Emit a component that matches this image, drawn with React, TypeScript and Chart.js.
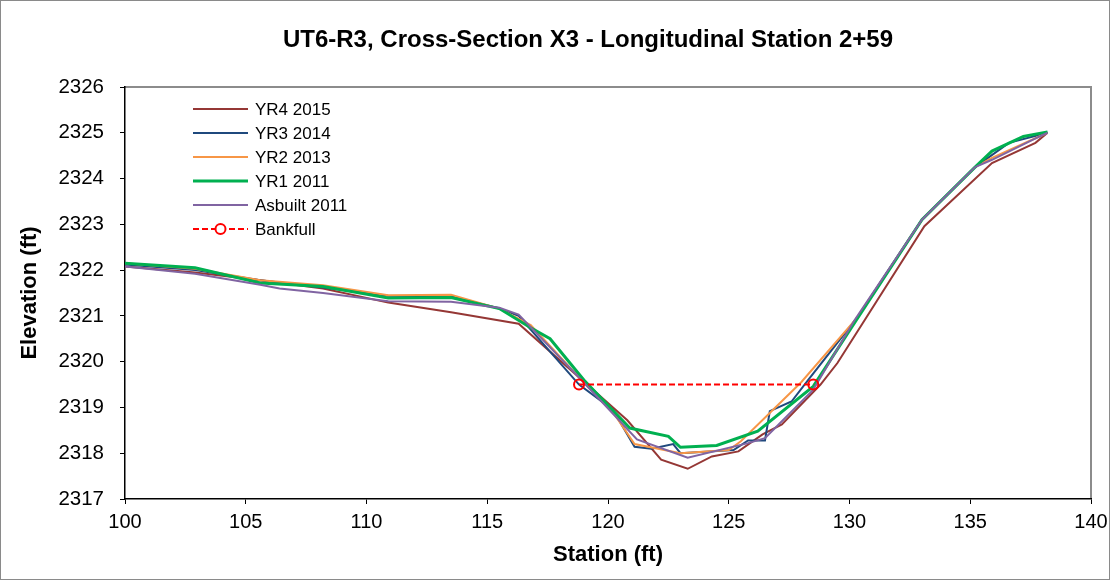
import { useEffect, useRef } from "react";
import { Chart, registerables } from "chart.js";

Chart.register(...registerables);

const chartTitle = "UT6-R3, Cross-Section X3 - Longitudinal Station 2+59";
const xAxisTitle = "Station (ft)";
const yAxisTitle = "Elevation (ft)";

const xTicksMin = 100;
const xTicksMax = 140;
const xTickStep = 5;
const yTicksMin = 2317;
const yTicksMax = 2326;
const yTickStep = 1;

const seriesLabels = ["YR4 2015", "YR3 2014", "YR2 2013", "YR1 2011", "Asbuilt 2011", "Bankfull"];

const yr4Station = [100, 102.9, 105.6, 108.2, 110.9, 113.5, 116.3, 120.8, 122.2, 123.3, 124.3, 125.4, 126.4, 127.2, 128.8, 129.5, 133.1, 135.9, 137.7, 138.2];
const yr4Elev = [2322.08, 2321.95, 2321.78, 2321.6, 2321.29, 2321.08, 2320.83, 2318.72, 2317.86, 2317.66, 2317.93, 2318.04, 2318.41, 2318.63, 2319.5, 2319.97, 2322.96, 2324.34, 2324.78, 2325.0];

const yr3Station = [100, 102.9, 105.6, 108.2, 110.9, 113.5, 115.5, 116.3, 118.8, 120.2, 121.1, 121.8, 122.7, 123.0, 125.2, 125.8, 126.5, 126.7, 127.6, 128.3, 130.3, 133.0, 135.2, 136.6, 138.2];
const yr3Elev = [2322.12, 2322.0, 2321.78, 2321.62, 2321.44, 2321.43, 2321.16, 2321.0, 2319.5, 2318.95, 2318.14, 2318.1, 2318.2, 2318.0, 2318.07, 2318.28, 2318.28, 2318.92, 2319.13, 2319.61, 2320.95, 2323.1, 2324.25, 2324.78, 2325.0];

const yr2Station = [100, 102.9, 105.6, 108.2, 110.9, 113.5, 115.5, 116.8, 118.9, 120.2, 121.1, 123.0, 125.0, 125.5, 128.0, 130.3, 133.0, 135.2, 135.9, 138.2];
const yr2Elev = [2322.15, 2322.03, 2321.78, 2321.67, 2321.45, 2321.46, 2321.16, 2320.8, 2319.6, 2318.9, 2318.2, 2318.0, 2318.07, 2318.26, 2319.55, 2320.95, 2323.1, 2324.25, 2324.45, 2325.0];

const yr1Station = [100, 102.9, 105.6, 108.2, 110.9, 113.5, 115.5, 116.8, 117.6, 119.0, 120.9, 122.5, 123.0, 124.5, 126.2, 128.5, 130.3, 133.0, 135.2, 135.9, 137.2, 138.2];
const yr1Elev = [2322.15, 2322.05, 2321.72, 2321.64, 2321.39, 2321.4, 2321.16, 2320.74, 2320.5, 2319.6, 2318.55, 2318.37, 2318.13, 2318.17, 2318.48, 2319.46, 2320.92, 2323.1, 2324.25, 2324.6, 2324.92, 2325.02];

const asbuiltStation = [100, 102.9, 105.6, 106.4, 108.2, 110.9, 113.5, 115.5, 116.3, 118.9, 121.2, 123.3, 125.8, 126.5, 127.2, 128.5, 130.2, 133.0, 135.2, 135.9, 137.6, 138.2];
const asbuiltElev = [2322.08, 2321.92, 2321.68, 2321.6, 2321.5, 2321.32, 2321.31, 2321.18, 2321.03, 2319.6, 2318.3, 2317.9, 2318.22, 2318.33, 2318.7, 2319.39, 2320.9, 2323.1, 2324.25, 2324.41, 2324.85, 2325.0];

const bankfullStation = [118.8, 128.5];
const bankfullElev = [2319.5, 2319.5];

const FONT = "'Liberation Sans', Arial, sans-serif";

function pts(xs: number[], ys: number[]) {
  return xs.map((x, i) => ({ x, y: ys[i] }));
}

const chromePlugin = {
  id: "chrome",
  beforeDraw(chart: any) {
    const { ctx, width, height, chartArea: a } = chart;
    ctx.save();
    ctx.fillStyle = "#ffffff";
    ctx.fillRect(0, 0, width, height);
    ctx.strokeStyle = "#8a8a8a";
    ctx.lineWidth = 1;
    ctx.strokeRect(0.5, 0.5, width - 1, height - 1);
    ctx.strokeStyle = "#8c8c8c";
    ctx.lineWidth = 2;
    ctx.beginPath();
    ctx.moveTo(a.left, a.top);
    ctx.lineTo(a.right, a.top);
    ctx.lineTo(a.right, a.bottom);
    ctx.stroke();
    ctx.fillStyle = "#000000";
    ctx.font = `bold 24px ${FONT}`;
    ctx.textAlign = "center";
    ctx.textBaseline = "middle";
    ctx.fillText(chartTitle, 588, 40);
    ctx.restore();
  },
  afterDatasetsDraw(chart: any) {
    const { ctx, chartArea: a } = chart;
    ctx.save();
    const x0 = a.left + 68;
    const x1 = a.left + 123;
    const tx = a.left + 130;
    chart.data.datasets.forEach((ds: any, i: number) => {
      const y = a.top + 22 + i * 24;
      ctx.strokeStyle = ds.borderColor;
      ctx.lineWidth = ds.borderWidth;
      ctx.setLineDash(ds.borderDash || []);
      ctx.beginPath();
      ctx.moveTo(x0, y);
      ctx.lineTo(x1, y);
      ctx.stroke();
      ctx.setLineDash([]);
      if (ds.pointRadius > 0) {
        ctx.lineWidth = 2;
        ctx.fillStyle = "#ffffff";
        ctx.beginPath();
        ctx.arc((x0 + x1) / 2, y, ds.pointRadius, 0, Math.PI * 2);
        ctx.fill();
        ctx.stroke();
      }
      ctx.fillStyle = "#000000";
      ctx.font = `17px ${FONT}`;
      ctx.textBaseline = "middle";
      ctx.textAlign = "left";
      ctx.fillText(ds.label, tx, y + 1);
    });
    ctx.restore();
  },
};

export default function App() {
  const ref = useRef<HTMLCanvasElement | null>(null);

  useEffect(() => {
    document.body.style.margin = "0";
    const canvas = ref.current;
    if (!canvas) return;
    const line = (label: string, xs: number[], ys: number[], color: string, width: number, order: number) => ({
      label,
      data: pts(xs, ys),
      borderColor: color,
      backgroundColor: color,
      borderWidth: width,
      pointRadius: 0,
      tension: 0,
      fill: false,
      order,
    });
    const chart = new Chart(canvas, {
      type: "line",
      data: {
        datasets: [
          line(seriesLabels[0], yr4Station, yr4Elev, "#953735", 2, 6),
          line(seriesLabels[1], yr3Station, yr3Elev, "#1F497D", 2, 5),
          line(seriesLabels[2], yr2Station, yr2Elev, "#F79646", 2, 4),
          line(seriesLabels[3], yr1Station, yr1Elev, "#00B050", 3, 3),
          line(seriesLabels[4], asbuiltStation, asbuiltElev, "#8064A2", 2, 2),
          {
            label: seriesLabels[5],
            data: pts(bankfullStation, bankfullElev),
            borderColor: "#FF0000",
            backgroundColor: "rgba(0,0,0,0)",
            borderWidth: 2,
            borderDash: [6, 3],
            pointRadius: 5,
            pointBorderWidth: 2,
            pointBorderColor: "#FF0000",
            pointBackgroundColor: "rgba(0,0,0,0)",
            tension: 0,
            fill: false,
            order: 1,
          } as any,
        ],
      },
      options: {
        animation: false,
        responsive: false,
        devicePixelRatio: 1,
        layout: { padding: { left: 0, right: 19, top: 87, bottom: 0 } },
        plugins: {
          legend: { display: false },
          tooltip: { enabled: false },
          title: { display: false },
        },
        scales: {
          x: {
            type: "linear",
            min: xTicksMin,
            max: xTicksMax,
            afterFit: (s: any) => {
              s.height = 81;
              s.paddingRight = 0;
              s.paddingLeft = 0;
            },
            ticks: {
              stepSize: xTickStep,
              color: "#000000",
              font: { family: FONT, size: 20 },
              padding: 6,
              maxRotation: 0,
              callback: (v: any) => String(v),
            },
            grid: { display: true, drawOnChartArea: false, drawTicks: true, tickLength: 5, color: "#000000" },
            border: { display: true, color: "#000000", width: 1.5 },
            title: {
              display: true,
              text: xAxisTitle,
              color: "#000000",
              font: { family: FONT, size: 22, weight: "bold" },
              padding: { top: 12, bottom: 12 },
            },
          },
          y: {
            type: "linear",
            min: yTicksMin,
            max: yTicksMax,
            afterFit: (s: any) => {
              s.width = 125;
            },
            ticks: {
              stepSize: yTickStep,
              color: "#000000",
              font: { family: FONT, size: 20.5 },
              padding: 16,
              callback: (v: any) => String(v),
            },
            grid: { display: true, drawOnChartArea: false, drawTicks: true, tickLength: 5, color: "#000000" },
            border: { display: true, color: "#000000", width: 1.5 },
            title: {
              display: true,
              text: yAxisTitle,
              color: "#000000",
              font: { family: FONT, size: 22, weight: "bold" },
              padding: { top: 17, bottom: 17 },
            },
          },
        },
      } as any,
      plugins: [chromePlugin],
    });
    return () => chart.destroy();
  }, []);

  return (
    <div style={{ width: 1110, height: 580 }}>
      <canvas ref={ref} width={1110} height={580} style={{ display: "block" }} />
    </div>
  );
}
